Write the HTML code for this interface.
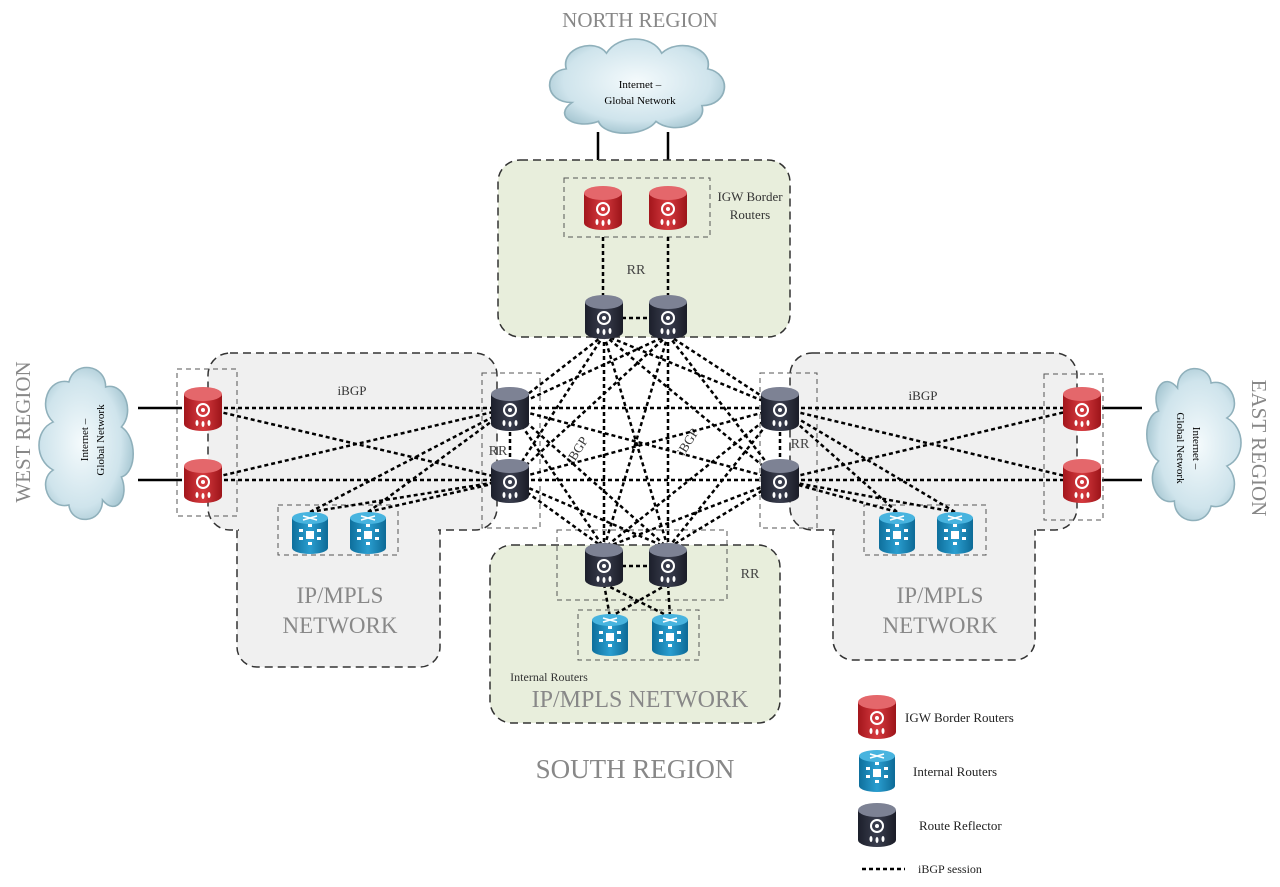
<!DOCTYPE html>
<html><head><meta charset="utf-8"><style>
html,body{margin:0;padding:0;background:#fff}
svg{display:block}
text{font-family:"Liberation Serif",serif}
</style></head><body>
<svg width="1280" height="887" viewBox="0 0 1280 887" xmlns="http://www.w3.org/2000/svg">
<defs>
<linearGradient id="gr" x1="0" x2="1"><stop offset="0" stop-color="#a3161c"/><stop offset=".5" stop-color="#d63a3f"/><stop offset="1" stop-color="#9c1419"/></linearGradient>
<linearGradient id="gd" x1="0" x2="1"><stop offset="0" stop-color="#1c1f2b"/><stop offset=".5" stop-color="#3a3e4e"/><stop offset="1" stop-color="#1a1c27"/></linearGradient>
<linearGradient id="gb" x1="0" x2="1"><stop offset="0" stop-color="#0e6f9c"/><stop offset=".5" stop-color="#2a9ed0"/><stop offset="1" stop-color="#0d6a96"/></linearGradient>
<radialGradient id="gc" cx=".5" cy=".45" r=".6"><stop offset="0" stop-color="#f4fafc"/><stop offset=".7" stop-color="#cfe4ec"/><stop offset="1" stop-color="#9dc0cc"/></radialGradient>
<g id="rr"><path d="M-19,-14 v30 a19,7 0 0 0 38,0 v-30z" fill="url(#gr)"/><ellipse cx="0" cy="-14" rx="19" ry="7" fill="#e4676b"/><circle cx="0" cy="2" r="6" fill="none" stroke="#fff" stroke-width="2"/><circle cx="0" cy="2" r="2" fill="#fff"/><ellipse cx="-6" cy="15" rx="1.5" ry="3" fill="#fff"/><ellipse cx="0" cy="16" rx="1.5" ry="3" fill="#fff"/><ellipse cx="6" cy="15" rx="1.5" ry="3" fill="#fff"/></g>
<g id="rd"><path d="M-19,-14 v30 a19,7 0 0 0 38,0 v-30z" fill="url(#gd)"/><ellipse cx="0" cy="-14" rx="19" ry="7" fill="#7d8294"/><circle cx="0" cy="2" r="6" fill="none" stroke="#fff" stroke-width="2"/><circle cx="0" cy="2" r="2" fill="#fff"/><ellipse cx="-6" cy="15" rx="1.5" ry="3" fill="#fff"/><ellipse cx="0" cy="16" rx="1.5" ry="3" fill="#fff"/><ellipse cx="6" cy="15" rx="1.5" ry="3" fill="#fff"/></g>
<g id="rb"><path d="M-18,-14 v30 a18,6 0 0 0 36,0 v-30z" fill="url(#gb)"/><ellipse cx="0" cy="-14" rx="18" ry="6" fill="#48b4df"/><path d="M-7,-16 l14,4 M7,-16 l-14,4" stroke="#fff" stroke-width="1.5"/><rect x="-4" y="-1" width="8" height="8" fill="#fff"/><rect x="-11" y="-3" width="4" height="3" fill="#fff"/><rect x="7" y="-3" width="4" height="3" fill="#fff"/><rect x="-11" y="5" width="4" height="3" fill="#fff"/><rect x="7" y="5" width="4" height="3" fill="#fff"/><rect x="-2" y="-8" width="4" height="3" fill="#fff"/><rect x="-2" y="10" width="4" height="3" fill="#fff"/></g>
<path id="cloud" d="M-60,10 c-25,0 -25,-30 -5,-32 c-5,-20 25,-30 35,-15 c10,-18 40,-18 48,0 c15,-15 45,-5 40,15 c22,5 18,35 -5,35 c5,18 -25,28 -40,15 c-10,15 -45,15 -50,0 c-20,8 -40,-5 -23,-18z" fill="url(#gc)" stroke="#8fb0bb" stroke-width="1.5"/>
</defs>

<!-- North region -->
<text x="640" y="27" font-size="21" fill="#888" text-anchor="middle">NORTH REGION</text>
<use href="#cloud" transform="translate(641,92) scale(1.15,1.05)"/>
<text x="640" y="88" font-size="11" text-anchor="middle">Internet –</text>
<text x="640" y="104" font-size="11" text-anchor="middle">Global Network</text>
<line x1="598" y1="132" x2="598" y2="180" stroke="#000" stroke-width="2.5"/>
<line x1="668" y1="132" x2="668" y2="180" stroke="#000" stroke-width="2.5"/>
<rect x="498" y="160" width="292" height="177" rx="22" fill="#e8eedc" stroke="#333" stroke-width="1.5" stroke-dasharray="8,5"/>
<rect x="564" y="178" width="146" height="59" fill="none" stroke="#555" stroke-dasharray="5,4"/>
<text x="750" y="201" font-size="13" fill="#333" text-anchor="middle">IGW Border</text>
<text x="750" y="219" font-size="13" fill="#333" text-anchor="middle">Routers</text>
<text x="636" y="274" font-size="14" fill="#444" text-anchor="middle">RR</text>

<!-- West region -->
<text transform="translate(30,432) rotate(-90)" font-size="21" fill="#888" text-anchor="middle">WEST REGION</text>
<rect x="237" y="480" width="203" height="187" rx="20" fill="#f0f0f0" stroke="#333" stroke-width="1.5" stroke-dasharray="8,5"/>
<rect x="208" y="353" width="289" height="177" rx="22" fill="#f0f0f0" stroke="#333" stroke-width="1.5" stroke-dasharray="8,5"/>
<rect x="239" y="528" width="199" height="6" fill="#f0f0f0"/>
<text x="340" y="603" font-size="23" fill="#888" text-anchor="middle">IP/MPLS</text>
<text x="340" y="633" font-size="23" fill="#888" text-anchor="middle">NETWORK</text>
<use href="#cloud" transform="translate(92,440) rotate(-90) scale(1.0,1.05)"/>
<text transform="translate(88,440) rotate(-90)" font-size="11" text-anchor="middle">Internet –</text>
<text transform="translate(104,440) rotate(-90)" font-size="11" text-anchor="middle">Global Network</text>
<line x1="138" y1="408" x2="182" y2="408" stroke="#000" stroke-width="2.5"/>
<line x1="138" y1="480" x2="182" y2="480" stroke="#000" stroke-width="2.5"/>
<rect x="177" y="369" width="60" height="147" fill="none" stroke="#555" stroke-dasharray="5,4"/>
<rect x="482" y="373" width="58" height="155" fill="none" stroke="#555" stroke-dasharray="5,4"/>
<rect x="278" y="505" width="120" height="50" fill="none" stroke="#555" stroke-dasharray="5,4"/>
<text x="352" y="395" font-size="13" fill="#333" text-anchor="middle">iBGP</text>
<text x="498" y="455" font-size="14" fill="#444" text-anchor="middle">RR</text>

<!-- East region -->
<text transform="translate(1252,448) rotate(90)" font-size="21" fill="#888" text-anchor="middle">EAST REGION</text>
<rect x="833" y="480" width="202" height="180" rx="20" fill="#f0f0f0" stroke="#333" stroke-width="1.5" stroke-dasharray="8,5"/>
<rect x="790" y="353" width="287" height="177" rx="22" fill="#f0f0f0" stroke="#333" stroke-width="1.5" stroke-dasharray="8,5"/>
<rect x="835" y="528" width="198" height="6" fill="#f0f0f0"/>
<text x="940" y="603" font-size="23" fill="#888" text-anchor="middle">IP/MPLS</text>
<text x="940" y="633" font-size="23" fill="#888" text-anchor="middle">NETWORK</text>
<use href="#cloud" transform="translate(1188,448) rotate(90) scale(1.0,1.05)"/>
<text transform="translate(1193,448) rotate(90)" font-size="11" text-anchor="middle">Internet –</text>
<text transform="translate(1177,448) rotate(90)" font-size="11" text-anchor="middle">Global Network</text>
<line x1="1102" y1="408" x2="1142" y2="408" stroke="#000" stroke-width="2.5"/>
<line x1="1102" y1="480" x2="1142" y2="480" stroke="#000" stroke-width="2.5"/>
<rect x="1044" y="374" width="59" height="146" fill="none" stroke="#555" stroke-dasharray="5,4"/>
<rect x="760" y="373" width="57" height="155" fill="none" stroke="#555" stroke-dasharray="5,4"/>
<rect x="864" y="505" width="122" height="50" fill="none" stroke="#555" stroke-dasharray="5,4"/>
<text x="923" y="400" font-size="13" fill="#333" text-anchor="middle">iBGP</text>
<text x="800" y="448" font-size="14" fill="#444" text-anchor="middle">RR</text>

<!-- South region -->
<rect x="490" y="545" width="290" height="178" rx="22" fill="#e8eedc" stroke="#333" stroke-width="1.5" stroke-dasharray="8,5"/>
<rect x="557" y="530" width="170" height="70" fill="none" stroke="#555" stroke-dasharray="5,4"/>
<rect x="578" y="610" width="121" height="50" fill="none" stroke="#555" stroke-dasharray="5,4"/>
<text x="750" y="578" font-size="14" fill="#444" text-anchor="middle">RR</text>
<text x="549" y="681" font-size="12" fill="#333" text-anchor="middle">Internal Routers</text>
<text x="640" y="707" font-size="24" fill="#888" text-anchor="middle">IP/MPLS NETWORK</text>
<text x="635" y="778" font-size="27" fill="#888" text-anchor="middle">SOUTH REGION</text>
<text x="575" y="450" font-size="13" fill="#333" text-anchor="middle" transform="rotate(-58 580 446)">iBGP</text>
<text x="688" y="446" font-size="13" fill="#333" text-anchor="middle" transform="rotate(-58 688 442)">iBGP</text>

<!-- iBGP dotted lines -->
<g stroke="#000" stroke-width="2.5" stroke-dasharray="4,3" fill="none">
<line x1="603" y1="237" x2="603" y2="298"/><line x1="668" y1="237" x2="668" y2="298"/>
<line x1="622" y1="318" x2="650" y2="318"/>
<line x1="510" y1="425" x2="510" y2="465"/><line x1="780" y1="425" x2="780" y2="465"/>
<line x1="622" y1="566" x2="650" y2="566"/>
<path d="M604,335 L510,408 M604,335 L510,480 M604,335 L780,408 M604,335 L780,480 M604,335 L604,548 M604,335 L668,548
M668,335 L510,408 M668,335 L510,480 M668,335 L780,408 M668,335 L780,480 M668,335 L604,548 M668,335 L668,548
M510,408 L780,408 M510,408 L780,480 M510,480 L780,408 M510,480 L780,480
M510,408 L604,548 M510,408 L668,548 M510,480 L604,548 M510,480 L668,548
M780,408 L604,548 M780,408 L668,548 M780,480 L604,548 M780,480 L668,548"/>
<path d="M203,408 L510,408 M203,408 L510,480 M203,480 L510,408 M203,480 L510,480 M310,512 L510,408 M310,512 L510,480 M368,512 L510,408 M368,512 L510,480"/>
<path d="M780,408 L1082,408 M780,408 L1082,480 M780,480 L1082,408 M780,480 L1082,480 M897,512 L780,408 M897,512 L780,480 M955,512 L780,408 M955,512 L780,480"/>
<path d="M604,584 L610,617 M604,584 L670,617 M668,584 L610,617 M668,584 L670,617"/>
</g>

<!-- routers -->
<use href="#rr" x="603" y="207"/><use href="#rr" x="668" y="207"/>
<use href="#rd" x="604" y="316"/><use href="#rd" x="668" y="316"/>
<use href="#rr" x="203" y="408"/><use href="#rr" x="203" y="480"/>
<use href="#rd" x="510" y="408"/><use href="#rd" x="510" y="480"/>
<use href="#rb" x="310" y="532"/><use href="#rb" x="368" y="532"/>
<use href="#rd" x="780" y="408"/><use href="#rd" x="780" y="480"/>
<use href="#rr" x="1082" y="408"/><use href="#rr" x="1082" y="480"/>
<use href="#rb" x="897" y="532"/><use href="#rb" x="955" y="532"/>
<use href="#rd" x="604" y="564"/><use href="#rd" x="668" y="564"/>
<use href="#rb" x="610" y="634"/><use href="#rb" x="670" y="634"/>

<!-- legend -->
<use href="#rr" x="877" y="716"/>
<text x="905" y="722" font-size="13" fill="#222">IGW Border Routers</text>
<use href="#rb" x="877" y="770"/>
<text x="913" y="776" font-size="13" fill="#222">Internal Routers</text>
<use href="#rd" x="877" y="824"/>
<text x="919" y="830" font-size="13" fill="#222">Route Reflector</text>
<line x1="862" y1="869" x2="905" y2="869" stroke="#000" stroke-width="2.5" stroke-dasharray="4,3"/>
<text x="918" y="873" font-size="12" fill="#222">iBGP session</text>
</svg>
</body></html>
